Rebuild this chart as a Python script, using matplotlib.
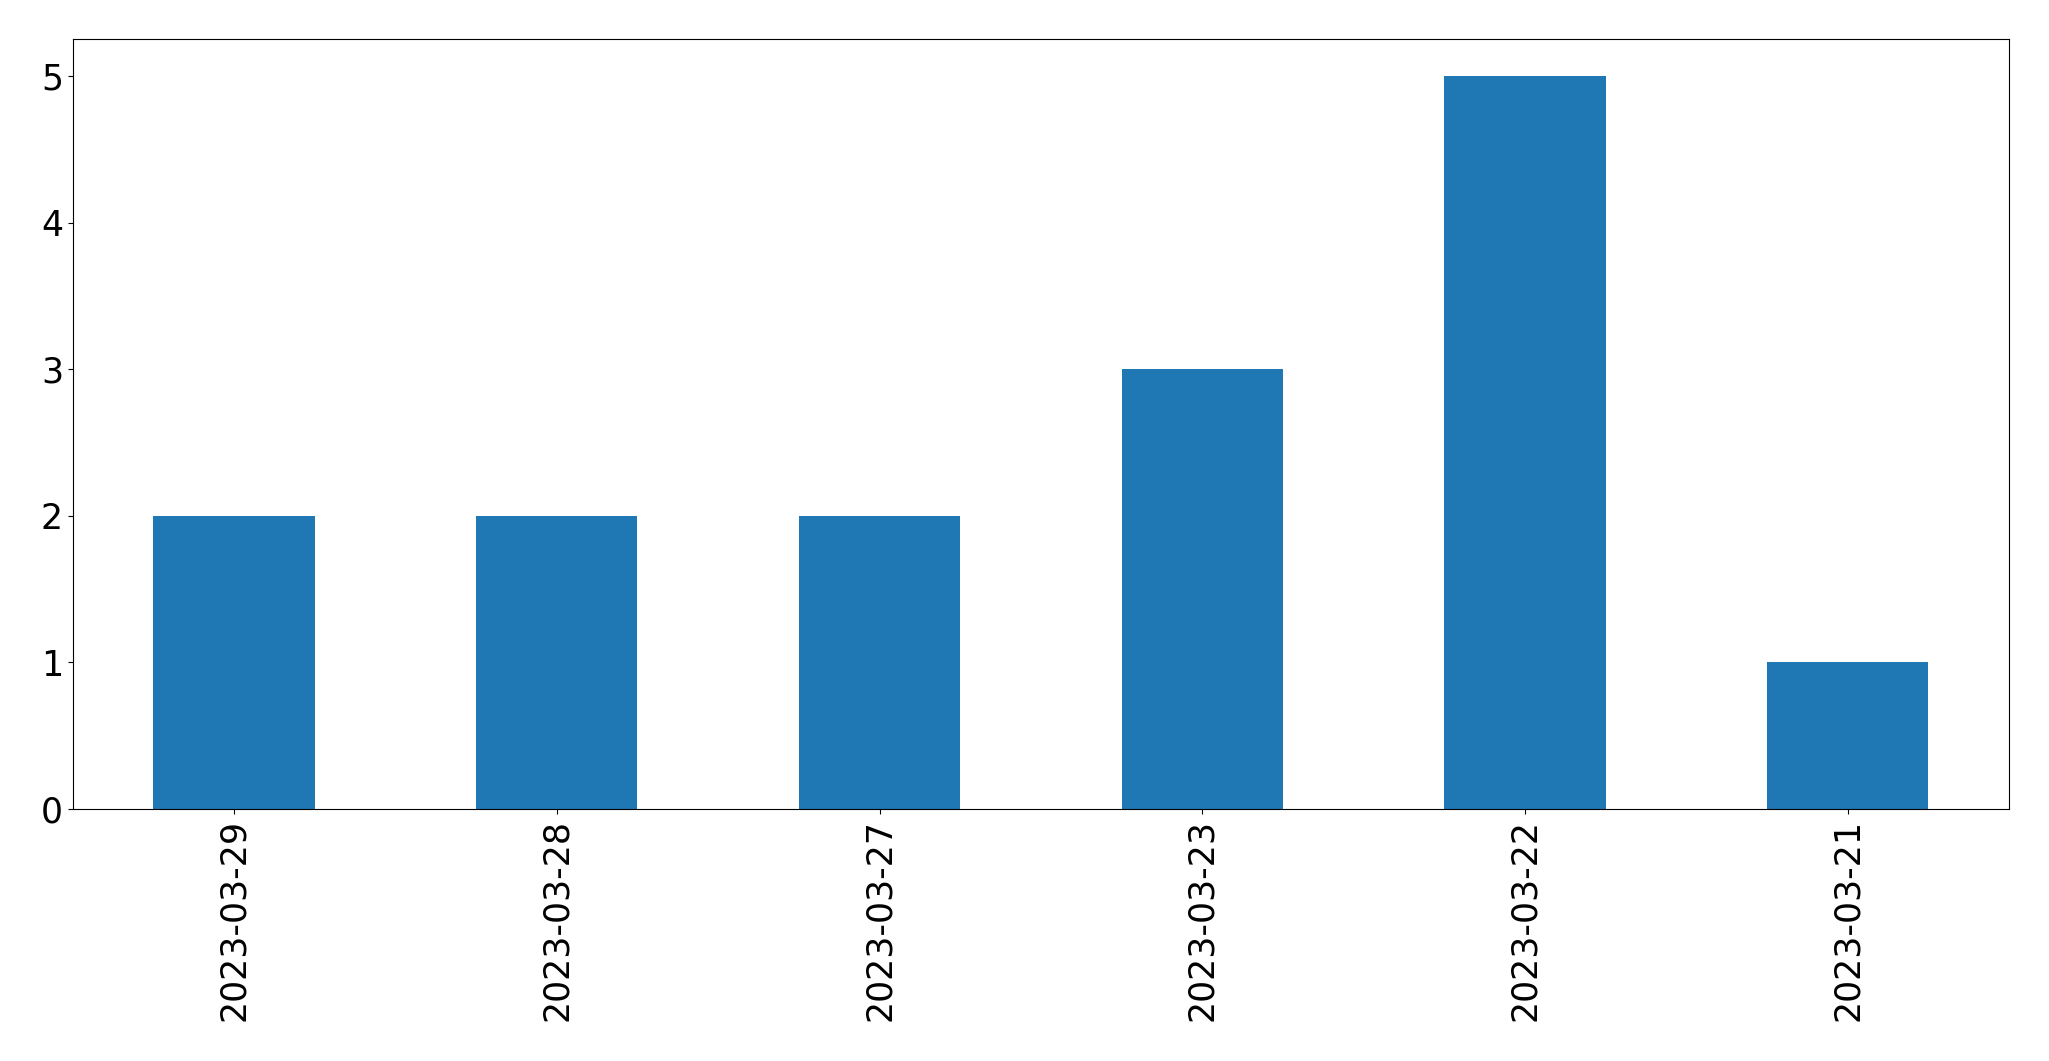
import matplotlib
matplotlib.use('Agg')
import matplotlib.pyplot as plt
import pandas as pd

dates = ['2023-03-29', '2023-03-28', '2023-03-27', '2023-03-23', '2023-03-22', '2023-03-21']
counts = [2, 2, 2, 3, 5, 1]

s = pd.Series(counts, index=dates)

fig = plt.figure(figsize=(20.49, 10.61), dpi=100)
ax = fig.add_subplot(1, 1, 1)
s.plot(kind='bar', ax=ax, color='#1f77b4')
ax.tick_params(labelsize=25)
fig.subplots_adjust(left=0.0355, right=0.9805, top=0.963, bottom=0.2375)

fig.savefig('out.png', dpi=100)
